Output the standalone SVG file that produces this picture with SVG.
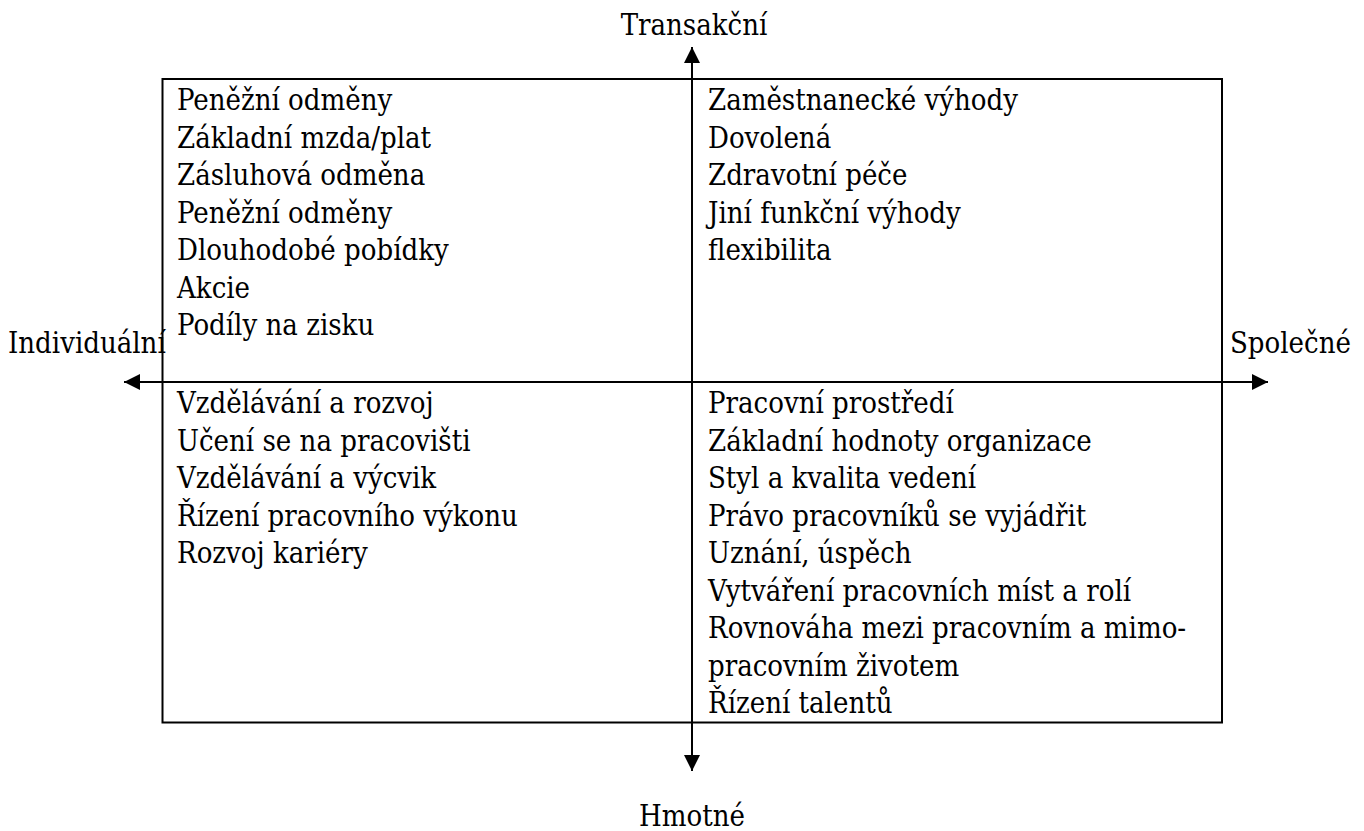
<svg xmlns="http://www.w3.org/2000/svg" width="1364" height="831" viewBox="0 0 1364 831">
<style>
text{font-family:'DejaVu Serif Condensed','DejaVu Serif',serif;font-stretch:condensed;font-size:29px;fill:#000}
.ln{stroke:#000;stroke-width:2;fill:none}
</style>
<defs>
<marker id="ah" viewBox="0 0 16 16" refX="16" refY="8" markerWidth="16" markerHeight="16" markerUnits="userSpaceOnUse" orient="auto">
<path d="M0,0 L16,8 L0,16 Z" fill="#000"/>
</marker>
</defs>
<rect width="1364" height="831" fill="#fff"/>
<g id="frame">
<rect class="ln" x="162.5" y="79" width="1059.5" height="643.5"/>
</g>
<g id="connectors">
<line class="ln" x1="692" y1="382" x2="692" y2="47" marker-end="url(#ah)"/>
<line class="ln" x1="692" y1="382" x2="692" y2="771" marker-end="url(#ah)"/>
<line class="ln" x1="692" y1="382" x2="124" y2="382" marker-end="url(#ah)"/>
<line class="ln" x1="692" y1="382" x2="1268" y2="382" marker-end="url(#ah)"/>
</g>
<g id="label-top"><text x="694" y="35" text-anchor="middle">Transakční</text></g>
<g id="label-bottom"><text x="692" y="826" text-anchor="middle">Hmotné</text></g>
<g id="label-left"><text x="8" y="353">Individuální</text></g>
<g id="label-right"><text x="1230" y="353">Společné</text></g>
<g id="q-top-left">
<text x="177" y="110">Peněžní odměny</text>
<text x="177" y="147.5">Základní mzda/plat</text>
<text x="177" y="185">Zásluhová odměna</text>
<text x="177" y="222.5">Peněžní odměny</text>
<text x="177" y="260">Dlouhodobé pobídky</text>
<text x="177" y="297.5">Akcie</text>
<text x="177" y="335">Podíly na zisku</text>
</g>
<g id="q-top-right">
<text x="708" y="110">Zaměstnanecké výhody</text>
<text x="708" y="147.5">Dovolená</text>
<text x="708" y="185">Zdravotní péče</text>
<text x="708" y="222.5">Jiní funkční výhody</text>
<text x="708" y="260">flexibilita</text>
</g>
<g id="q-bottom-left">
<text x="177" y="413">Vzdělávání a rozvoj</text>
<text x="177" y="450.5">Učení se na pracovišti</text>
<text x="177" y="488">Vzdělávání a výcvik</text>
<text x="177" y="525.5">Řízení pracovního výkonu</text>
<text x="177" y="563">Rozvoj kariéry</text>
</g>
<g id="q-bottom-right">
<text x="708" y="413">Pracovní prostředí</text>
<text x="708" y="450.5">Základní hodnoty organizace</text>
<text x="708" y="488">Styl a kvalita vedení</text>
<text x="708" y="525.5">Právo pracovníků se vyjádřit</text>
<text x="708" y="563">Uznání, úspěch</text>
<text x="708" y="600.5">Vytváření pracovních míst a rolí</text>
<text x="708" y="638">Rovnováha mezi pracovním a mimo-</text>
<text x="708" y="675.5">pracovním životem</text>
<text x="708" y="713">Řízení talentů</text>
</g>
</svg>
